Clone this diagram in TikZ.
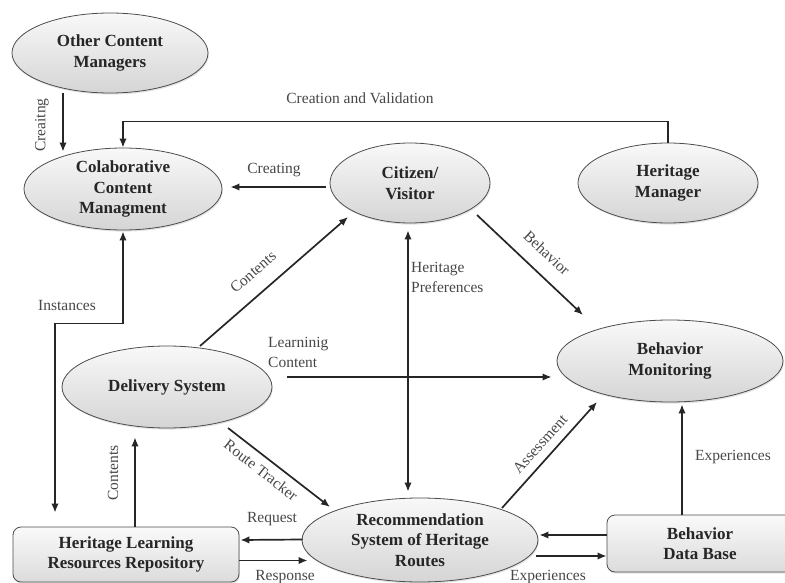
\documentclass[tikz,border=0pt]{standalone}
\usepackage{fontspec}
\setmainfont{Liberation Serif}
\usetikzlibrary{shapes.geometric,arrows.meta,calc,shadows}
\begin{document}
\begin{tikzpicture}[x=1pt,y=-1pt,
  proc/.style={ellipse,draw=black!70,line width=0.8pt,top color=gray!5,bottom color=gray!33,
    drop shadow={opacity=0.22,shadow xshift=0.8pt,shadow yshift=-1.6pt},
    inner sep=0pt,align=center,font=\bfseries\fontsize{17}{20.5}\selectfont,text=black!85},
  store/.style={rectangle,rounded corners=8pt,draw=black!70,line width=0.8pt,top color=gray!4,bottom color=gray!28,
    drop shadow={opacity=0.22,shadow xshift=0.8pt,shadow yshift=-1.6pt},
    inner sep=0pt,align=center,font=\bfseries\fontsize{17}{20.5}\selectfont,text=black!85},
  flow/.style={line width=1.7pt,draw=black!85,-{Latex[length=9pt,width=7.5pt]}},
  both/.style={line width=1.7pt,draw=black!85,{Latex[length=9pt,width=7.5pt]}-{Latex[length=9pt,width=7.5pt]}},
  lbl/.style={font=\fontsize{15.5}{20}\selectfont,text=black!72,inner sep=0pt}
]
\useasboundingbox (0,0) rectangle (785,583);

% processes and actors
\node[proc,minimum width=196pt,minimum height=80pt] (ocm) at (110,53) {Other Content\\Managers};
\node[proc,minimum width=198pt,minimum height=82pt] (ccm) at (123,189) {Colaborative\\Content\\Managment};
\node[proc,minimum width=160pt,minimum height=80pt] (cit) at (410,183) {Citizen/\\Visitor};
\node[proc,minimum width=180pt,minimum height=80pt] (hm)  at (668,183) {Heritage\\Manager};
\node[proc,minimum width=226pt,minimum height=82pt] (bm)  at (670,361) {Behavior\\Monitoring};
\node[proc,minimum width=210pt,minimum height=82pt] (ds)  at (167,387) {Delivery System};
\node[proc,minimum width=236pt,minimum height=84pt] (rec) at (420,540) {Recommendation\\System of Heritage\\Routes};

% data stores
\node[store,minimum width=226pt,minimum height=55pt] (hlrr) at (126,554.5) {Heritage Learning\\Resources Repository};
\node[store,minimum width=186pt,minimum height=57pt] (bdb)  at (700,543.5) {Behavior\\Data Base};

% flows
\draw[flow] ($(ocm.south)+(-47,0)$) -- ($(ccm.north)+(-60,4)$);
\node[lbl,rotate=90] at (42,125) {Creaitng};

\draw[flow] (hm.north) -- ++(0,-21) -| (ccm.north);
\node[lbl] at (360,98) {Creation and Validation};

\draw[flow] ($(cit.west)+(-4,4)$) -- ($(ccm.east)+(8,-2)$);
\node[lbl] at (274,170) {Creating};

\draw[flow] ($(ds.center)+(33,-41)$) -- ($(cit.center)+(-62,34)$);
\node[lbl,rotate=41] at (253,272) {Contents};

\draw[both] ($(cit.south)+(-2,7)$) -- ($(rec.north)+(-12,-6)$);
\node[lbl,anchor=west,align=left] at (411,277) {Heritage\\Preferences};

\draw[flow] ($(cit.center)+(67,32)$) -- ($(bm.center)+(-87,-46)$);
\node[lbl,rotate=-43] at (547,253) {Behavior};

\draw[flow] ($(ds.east)+(15,-10)$) -- ($(bm.west)+(-5,16)$);
\node[lbl,anchor=west,align=left] at (268,352) {Learninig\\Content};

\draw[flow] ($(ds.center)+(61,41)$) -- ($(rec.center)+(-90,-33)$);
\node[lbl,rotate=-38] at (261,470) {Route Tracker};

\draw[flow] ($(rec.center)+(82,-32)$) -- ($(bm.center)+(-73,41)$);
\node[lbl,rotate=48] at (540,444) {Assessment};

\draw[flow] ($(hlrr.north)+(9,0)$) -- ($(ds.south)+(-32,9)$);
\node[lbl,rotate=90] at (113,473) {Contents};

\draw[both] ($(hlrr.north)+(-71,-14)$) |- ($(ccm.south)+(0,93)$) -- ($(ccm.south)+(0,1)$);
\node[lbl] at (67,305) {Instances};

\draw[flow] ($(rec.west)+(1,-0.5)$) -- ($(hlrr.east)+(1,-14.5)$);
\node[lbl] at (272,519) {Request};

\draw[flow] ($(hlrr.east)+(0,6)$) -- ($(rec.west)+(6,20.5)$);
\node[lbl] at (285,577) {Response};

\draw[flow] ($(bdb.west)+(0,-8.5)$) -- ($(rec.east)+(1,-5)$);
\draw[flow] ($(rec.east)+(-2,16)$) -- ($(bdb.west)+(0,12.5)$);
\node[lbl] at (548,577) {Experiences};

\draw[flow] ($(bdb.north)+(-18,0)$) -- ($(bm.south)+(12,2)$);
\node[lbl] at (733,457) {Experiences};
\end{tikzpicture}
\end{document}
